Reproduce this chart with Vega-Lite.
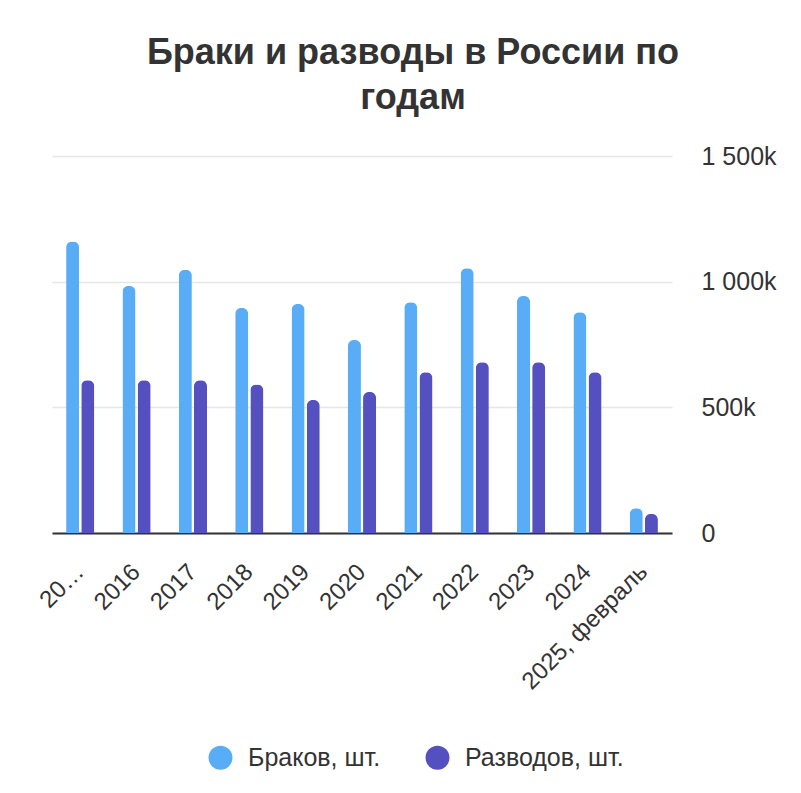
{
  "$schema": "https://vega.github.io/schema/vega-lite/v6.json",
  "width": 620,
  "height": 377,
  "autosize": {"type": "none"},
  "padding": {"left": 52, "top": 156, "right": 129, "bottom": 260},
  "background": "white",
  "config": {
    "font": "Liberation Sans",
    "view": {"stroke": null}
  },
  "title": {
    "text": ["Браки и разводы в России по", "годам"],
    "fontSize": 36,
    "fontWeight": "bold",
    "color": "#333333",
    "lineHeight": 45,
    "anchor": "middle",
    "frame": "group",
    "dx": 51,
    "offset": 27
  },
  "data": {
    "values": [
      {"year": "2015", "series": "Браков, шт.", "value": 1160000},
      {"year": "2015", "series": "Разводов, шт.", "value": 608000},
      {"year": "2016", "series": "Браков, шт.", "value": 983000},
      {"year": "2016", "series": "Разводов, шт.", "value": 608000},
      {"year": "2017", "series": "Браков, шт.", "value": 1047000},
      {"year": "2017", "series": "Разводов, шт.", "value": 608000},
      {"year": "2018", "series": "Браков, шт.", "value": 895000},
      {"year": "2018", "series": "Разводов, шт.", "value": 591000},
      {"year": "2019", "series": "Браков, шт.", "value": 911000},
      {"year": "2019", "series": "Разводов, шт.", "value": 529000},
      {"year": "2020", "series": "Браков, шт.", "value": 768000},
      {"year": "2020", "series": "Разводов, шт.", "value": 561000},
      {"year": "2021", "series": "Браков, шт.", "value": 918000},
      {"year": "2021", "series": "Разводов, шт.", "value": 640000},
      {"year": "2022", "series": "Браков, шт.", "value": 1053000},
      {"year": "2022", "series": "Разводов, шт.", "value": 679000},
      {"year": "2023", "series": "Браков, шт.", "value": 943000},
      {"year": "2023", "series": "Разводов, шт.", "value": 679000},
      {"year": "2024", "series": "Браков, шт.", "value": 878000},
      {"year": "2024", "series": "Разводов, шт.", "value": 640000},
      {"year": "2025, февраль", "series": "Браков, шт.", "value": 98000},
      {"year": "2025, февраль", "series": "Разводов, шт.", "value": 76000}
    ]
  },
  "mark": {"type": "bar", "cornerRadiusTopLeft": 6, "cornerRadiusTopRight": 6},
  "encoding": {
    "x": {
      "field": "year",
      "type": "nominal",
      "sort": null,
      "scale": {"paddingInner": 0.5, "paddingOuter": 0.25},
      "axis": {
        "title": null,
        "domain": true,
        "domainColor": "#333333",
        "domainWidth": 2,
        "ticks": false,
        "labelAngle": -45,
        "labelAlign": "right",
        "labelBaseline": "middle",
        "labelFontSize": 24,
        "labelColor": "#333333",
        "labelPadding": 35,
        "labelLimit": 300,
        "labelExpr": "datum.value == '2015' ? '20…' : datum.label"
      }
    },
    "xOffset": {
      "field": "series",
      "type": "nominal",
      "sort": ["Браков, шт.", "Разводов, шт."],
      "scale": {"paddingInner": 0.14}
    },
    "y": {
      "field": "value",
      "type": "quantitative",
      "scale": {"domain": [0, 1500000]},
      "axis": {
        "orient": "right",
        "title": null,
        "values": [0, 500000, 1000000, 1500000],
        "grid": true,
        "gridColor": "#e6e6e6",
        "gridWidth": 1.5,
        "domain": false,
        "ticks": false,
        "labelPadding": 29,
        "labelAlign": "left",
        "labelBaseline": "middle",
        "labelFontSize": 25,
        "labelColor": "#333333",
        "labelExpr": "datum.value == 0 ? '0' : replace(format(datum.value / 1000, ','), ',', ' ') + 'k'"
      }
    },
    "color": {
      "field": "series",
      "type": "nominal",
      "scale": {
        "domain": ["Браков, шт.", "Разводов, шт."],
        "range": ["#58adf6", "#5450bf"]
      },
      "legend": {
        "orient": "none",
        "legendX": 156,
        "legendY": 589,
        "direction": "horizontal",
        "title": null,
        "symbolType": "circle",
        "symbolSize": 576,
        "symbolStrokeWidth": 0,
        "labelFontSize": 25,
        "labelColor": "#333333",
        "labelOffset": 15,
        "columnPadding": 44
      }
    }
  }
}
